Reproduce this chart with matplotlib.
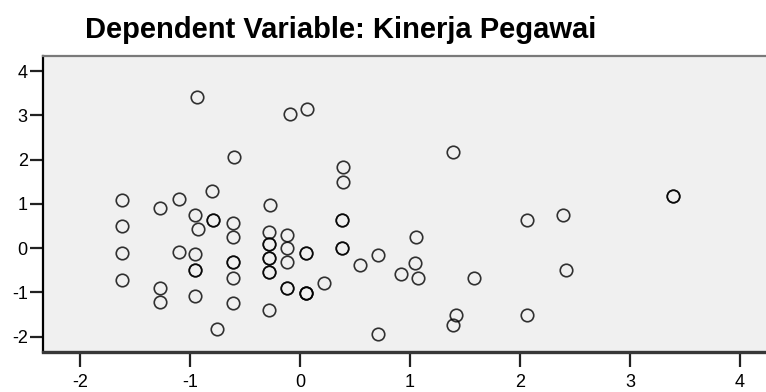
import matplotlib
matplotlib.use("Agg")
import matplotlib.pyplot as plt
import numpy as np

plt.rcParams['font.family'] = ['Liberation Sans', 'DejaVu Sans']

title = "Dependent Variable: Kinerja Pegawai"

# scatter points (duplicates = overlapping circles drawn darker)
px = [-1.615, -1.615, -1.615, -1.615,
      -1.27, -1.27, -1.27,
      -1.10, -1.10,
      -0.94, -0.955, -0.93, -0.955, -0.955, -0.955, -0.955,
      -0.80, -0.79, -0.79,
      -0.757,
      -0.60, -0.606, -0.606, -0.612, -0.612, -0.612, -0.612,
      -0.275, -0.279, -0.279, -0.279, -0.279, -0.279, -0.279, -0.279, -0.279,
      -0.118, -0.118, -0.118, -0.115, -0.115,
      -0.09, 0.06,
      0.055, 0.055, 0.052, 0.052, 0.052,
      0.218,
      0.39, 0.39, 0.38, 0.38, 0.385, 0.385,
      0.545,
      0.71, 0.71,
      0.915, 1.045, 1.055, 1.076,
      1.394, 1.418, 1.394,
      1.585,
      2.06, 2.06,
      2.39, 2.415,
      3.39, 3.39]
py = [1.08, 0.50, -0.11, -0.72,
      0.90, -0.90, -1.22,
      1.10, -0.08,
      3.42, 0.74, 0.42, -0.13, -0.49, -0.49, -1.08,
      1.29, 0.64, 0.64,
      -1.82,
      2.06, 0.57, 0.24, -0.32, -0.32, -0.67, -1.24,
      0.97, 0.37, 0.08, 0.08, -0.23, -0.23, -0.54, -0.54, -1.41,
      0.30, -0.01, -0.32, -0.91, -0.91,
      3.02, 3.15,
      -0.11, -0.11, -1.02, -1.02, -1.02,
      -0.79,
      1.82, 1.49, 0.63, 0.63, 0.01, 0.01,
      -0.38,
      -0.15, -1.95,
      -0.58, -0.33, 0.25, -0.67,
      2.17, -1.51, -1.73,
      -0.67,
      0.63, -1.51,
      0.75, -0.49,
      1.18, 1.18]

xticks = [-2, -1, 0, 1, 2, 3, 4]
yticks = [-2, -1, 0, 1, 2, 3, 4]

fig = plt.figure(figsize=(7.66, 3.92), dpi=100)
ax = fig.add_axes([43 / 766, 1 - 352 / 392, 6.736 * 110 / 766, 296 / 392])
ax.set_facecolor("#f0f0f0")

ax.plot(px, py, linestyle="none", marker="o", markersize=9,
        markerfacecolor="none", markeredgecolor="black", markeredgewidth=1.2,
        alpha=0.8)

ax.set_xlim(-2.336, 4.4)
ax.set_ylim(-2.35, 4.34)
ax.set_xticks(xticks)
ax.set_yticks(yticks)
ax.set_xticklabels([str(t) for t in xticks])
ax.set_yticklabels([str(t) for t in yticks])

ax.tick_params(axis="x", direction="out", length=11, width=1.6, pad=5,
               labelsize=13, color="#222222")
ax.tick_params(axis="y", direction="out", length=9.5, width=1.6, pad=1.5,
               labelsize=13, color="#222222")

ax.spines["left"].set_color("black")
ax.spines["left"].set_linewidth(1.6)
ax.spines["bottom"].set_color("#383838")
ax.spines["bottom"].set_linewidth(2.4)
ax.spines["top"].set_color("#7a7a7a")
ax.spines["top"].set_linewidth(1.6)
ax.spines["right"].set_visible(False)

fig.text(85 / 766, 1 - 38 / 392, title, fontsize=21, fontweight="bold",
         ha="left", va="baseline")

plt.savefig("out.png", dpi=100)
plt.close()
